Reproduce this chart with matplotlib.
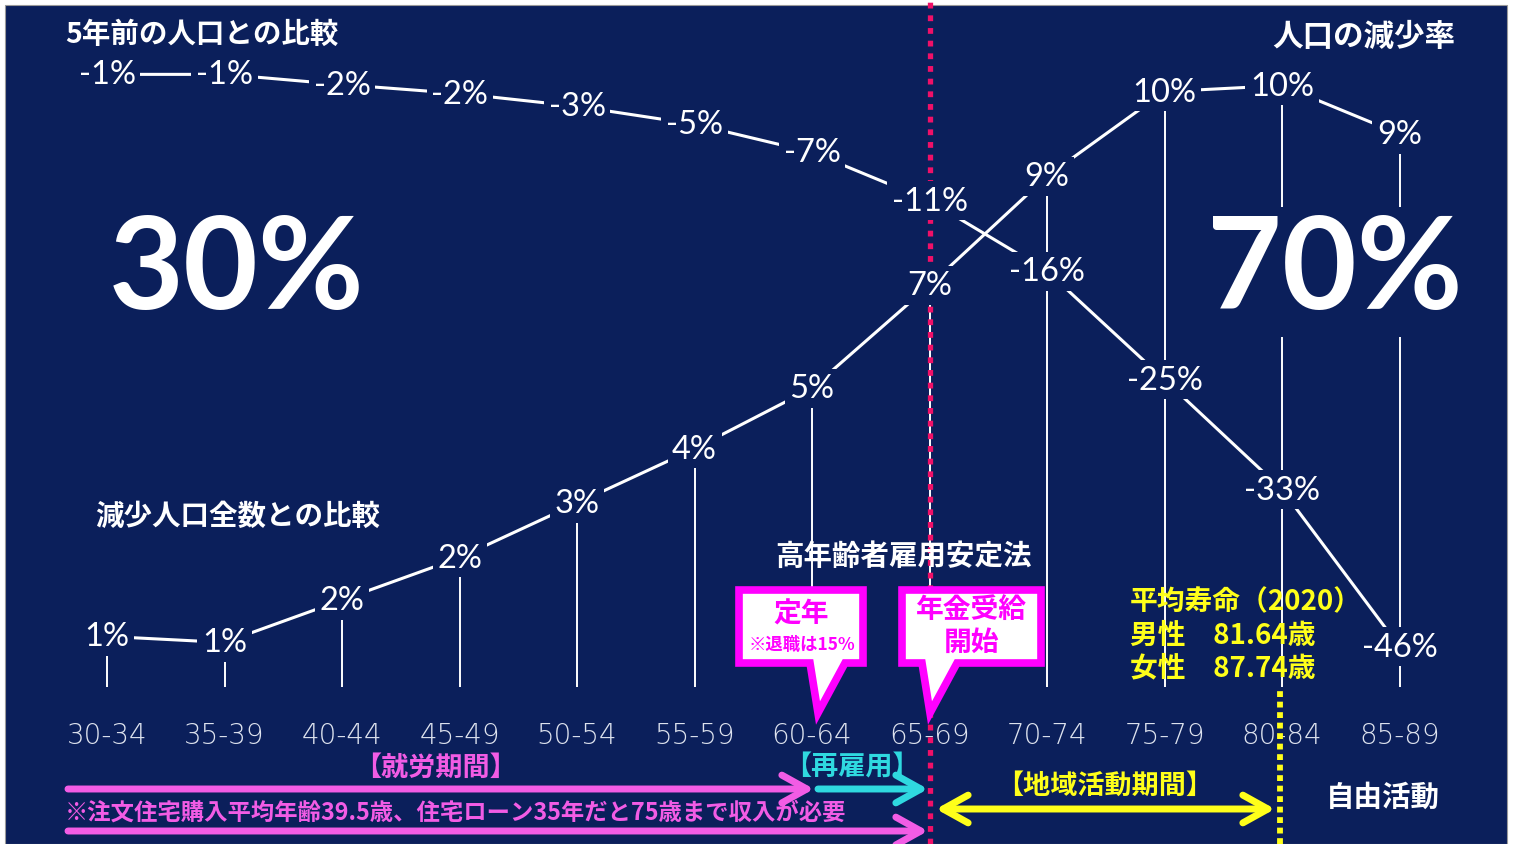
import matplotlib
matplotlib.use("Agg")
import matplotlib.pyplot as plt
from matplotlib.patches import Rectangle, Polygon
from matplotlib.transforms import blended_transform_factory

# ---------------- data ----------------
age_groups = ["30-34", "35-39", "40-44", "45-49", "50-54", "55-59",
              "60-64", "65-69", "70-74", "75-79", "80-84", "85-89"]
# 5年前の人口との比較 (%)
change_vs_5y = [-0.9, -0.9, -1.7, -2.4, -3.4, -4.8, -7.0, -10.8, -16.3, -24.8, -33.4, -45.7]
# 減少人口全数との比較 (%)
share_of_decline = [1.0, 0.9, 1.6, 2.3, 3.2, 4.1, 5.1, 6.8, 8.6, 10.0, 10.1, 9.3]
share_under65 = "30%"
share_65plus = "70%"

# ---------------- style ----------------
W, H = 1515, 845
NAVY = "#0b1f5b"
WHITE = "white"
MAG = "#f25ce5"
MAG_BOX = "#ff00ff"
CYAN = "#2fd9e0"
YEL = "#ffff1a"
RED_DOT = "#ef1068"
JP = ["Noto Sans CJK JP", "DejaVu Sans"]
NUM = ["Lato", "Noto Sans CJK JP", "DejaVu Sans"]
TICKF = ["DejaVu Sans", "Noto Sans CJK JP"]

fig = plt.figure(figsize=(W / 100, H / 100), dpi=100)
fig.patch.set_facecolor("white")
fig.add_artist(Rectangle((5 / W, 0), 1502 / W, 839 / H, transform=fig.transFigure,
                         facecolor=NAVY, edgecolor="#9a9a9a", lw=0.8, zorder=-10))

ax = fig.add_axes([0, 0, 1, 1])
ax.set_facecolor("none")
ax.axis("off")
ax2 = ax.twinx()
ax2.axis("off")

x = list(range(len(age_groups)))
XLIM = (-0.911, 11.983)
YLIM_TOP = (-61.15, 5.0)      # scale of change_vs_5y
YLIM_BOT = (-2.43, 11.53)     # scale of share_of_decline
BASE = 0.16                   # bottom of vertical guide lines (share scale)

t2 = ax2.transData
bt = blended_transform_factory(ax.transData, ax.transAxes)

def fy(p):
    return 1 - p / H

# lines
ax.plot(x, change_vs_5y, color=WHITE, lw=2.2, zorder=2, solid_capstyle="butt")
ax.plot(x, share_of_decline, color=WHITE, lw=2.2, zorder=2, transform=t2,
        solid_capstyle="butt")
ax.vlines(x, BASE, share_of_decline, color=WHITE, lw=1.4, zorder=1, transform=t2)

# dotted markers
ax.plot([7, 7], [0, 1], transform=bt, color=RED_DOT, lw=3.8,
        dashes=(1.1, 1.3), dash_capstyle="butt", zorder=3.5)
ax.plot([9.98, 9.98], [0, fy(692)], transform=bt, color=YEL, lw=4.2,
        dashes=(1.0, 0.8), dash_capstyle="butt", zorder=3.5)

# value labels
lbl_box = dict(boxstyle="square,pad=0.14", fc=NAVY, ec="none")
for i, v in enumerate(change_vs_5y):
    ax.text(i, v, f"{int(round(v))}%", ha="center", va="center", fontsize=23.5,
            color=WHITE, family=NUM, bbox=lbl_box, zorder=5)
for i, v in enumerate(share_of_decline):
    ax.text(i, v, f"{int(round(v))}%", ha="center", va="center", fontsize=23.5,
            color=WHITE, family=NUM, bbox=lbl_box, zorder=5, transform=t2)

# x labels
for i, g in enumerate(age_groups):
    ax.text(i, fy(736), g, transform=bt, ha="center", va="center", fontsize=20,
            color="#dde2ee", family=TICKF, fontweight="light", zorder=3)

ax.set_xlim(*XLIM)
ax.set_ylim(*YLIM_TOP)
ax2.set_ylim(*YLIM_BOT)

# ---------------- overlay (annotations in pixel space) ----------------
ov = fig.add_axes([0, 0, 1, 1], zorder=5)
ov.set_xlim(0, W)
ov.set_ylim(H, 0)
ov.axis("off")
ov.patch.set_visible(False)

big_box = dict(boxstyle="square,pad=0.05", fc=NAVY, ec="none")
ov.text(237, 273, share_under65, ha="center", va="center", fontsize=93,
        fontweight="bold", color=WHITE, family=NUM, bbox=big_box)
ov.text(1335, 273, share_65plus, ha="center", va="center", fontsize=93,
        fontweight="bold", color=WHITE, family=NUM, bbox=big_box)

ov.text(65, 35, "5年前の人口との比較", ha="left", va="center", fontsize=20.5,
        fontweight="bold", color=WHITE, family=JP)
ov.text(1455, 37, "人口の減少率", ha="right", va="center", fontsize=22,
        fontweight="bold", color=WHITE, family=JP)
ov.text(95, 517, "減少人口全数との比較", ha="left", va="center", fontsize=20.5,
        fontweight="bold", color=WHITE, family=JP)
ov.text(775, 557, "高年齢者雇用安定法", ha="left", va="center", fontsize=20.5,
        fontweight="bold", color=WHITE, family=JP)

# callouts
c1 = [(739, 591), (863, 591), (863, 664), (845, 664), (818, 714), (810, 664), (739, 664)]
c2 = [(902, 591), (1041, 591), (1041, 664), (957, 664), (930, 714), (922, 664), (902, 664)]
for pts in (c1, c2):
    ov.add_patch(Polygon(pts, closed=True, facecolor="white", edgecolor=MAG_BOX,
                         lw=5.5, joinstyle="miter"))
ov.text(801, 615, "定年", ha="center", va="center", fontsize=20, fontweight="bold",
        color=MAG_BOX, family=JP)
ov.text(802, 645, "※退職は15%", ha="center", va="center", fontsize=12.5,
        fontweight="bold", color=MAG_BOX, family=JP)
ov.text(971, 610, "年金受給", ha="center", va="center", fontsize=20,
        fontweight="bold", color=MAG_BOX, family=JP)
ov.text(971, 643, "開始", ha="center", va="center", fontsize=20,
        fontweight="bold", color=MAG_BOX, family=JP)

# life expectancy
for yy, s in zip((602, 636, 668), ("平均寿命（2020）", "男性　81.64歳", "女性　87.74歳")):
    ov.text(1130, yy, s, ha="left", va="center", fontsize=20, fontweight="bold",
            color=YEL, family=JP)

# periods
ov.text(435, 768, "【就労期間】", ha="center", va="center", fontsize=19.5,
        fontweight="bold", color=MAG, family=JP)
ov.text(852, 768, "【再雇用】", ha="center", va="center", fontsize=19.5,
        fontweight="bold", color=CYAN, family=JP)
ov.text(1105, 786, "【地域活動期間】", ha="center", va="center", fontsize=19.5,
        fontweight="bold", color=YEL, family=JP)
ov.text(1383, 798, "自由活動", ha="center", va="center", fontsize=20.5,
        fontweight="bold", color=WHITE, family=JP)
ov.text(65, 813, "※注文住宅購入平均年齢39.5歳、住宅ローン35年だと75歳まで収入が必要",
        ha="left", va="center", fontsize=16.8, fontweight="bold", color=MAG, family=JP)

def arrow(x0, x1, y, color, style="->", lw=5):
    ov.annotate("", xy=(x1, y), xytext=(x0, y),
                arrowprops=dict(arrowstyle=f"{style},head_length=0.9,head_width=0.5",
                                color=color, lw=lw, shrinkA=0, shrinkB=0,
                                mutation_scale=20, capstyle="round", joinstyle="round"))

arrow(68, 814, 790, MAG)
arrow(818, 928, 790, CYAN)
arrow(68, 928, 832, MAG)
arrow(936, 1275, 810, YEL, style="<->")

fig.savefig("out.png", dpi=100, facecolor=fig.get_facecolor())
